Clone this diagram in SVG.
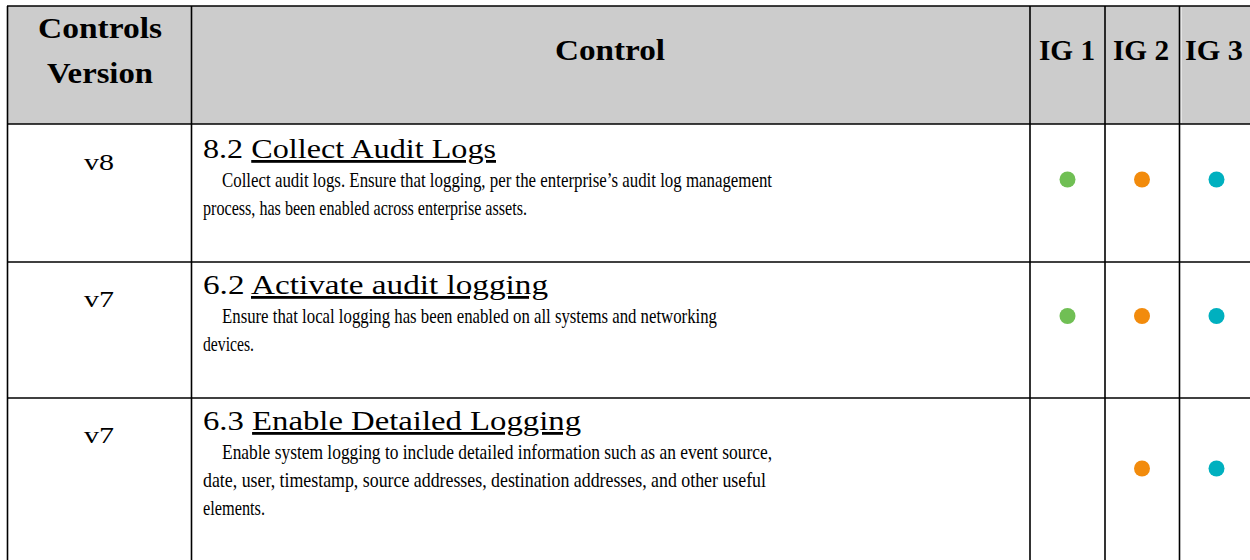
<svg xmlns="http://www.w3.org/2000/svg" width="1250" height="560" viewBox="0 0 1250 560">
<style>
.hd{font-family:"Liberation Serif","DejaVu Serif",serif;font-weight:bold;font-size:30px;fill:#000}
.ver{font-family:"Liberation Serif","DejaVu Serif",serif;font-size:24px;fill:#000}
.ttl{font-family:"Liberation Serif","DejaVu Serif",serif;font-size:28px;fill:#000}
.dsc{font-family:"Liberation Serif","DejaVu Serif",serif;font-size:21px;fill:#000}
.u{text-decoration:underline}
.grid{stroke:#000;stroke-width:1.6;fill:none}
.g{fill:#70bf54}.o{fill:#f28b0c}.t{fill:#00b0bf}
</style>
<rect x="0" y="0" width="1250" height="560" fill="#fff"/>
<g id="header">
<rect x="7" y="6" width="1243" height="118" fill="#cccccc"/>
<line x1="1181" y1="7" x2="1181" y2="123" stroke="#fff" stroke-width="1"/>
<text class="hd" x="38" y="38" textLength="124" lengthAdjust="spacingAndGlyphs">Controls</text>
<text class="hd" x="47" y="83" textLength="106" lengthAdjust="spacingAndGlyphs">Version</text>
<text class="hd" x="555" y="60" textLength="110" lengthAdjust="spacingAndGlyphs">Control</text>
<text class="hd" x="1039" y="60" textLength="56" lengthAdjust="spacingAndGlyphs">IG 1</text>
<text class="hd" x="1113" y="60" textLength="56" lengthAdjust="spacingAndGlyphs">IG 2</text>
<text class="hd" x="1185" y="60" textLength="58" lengthAdjust="spacingAndGlyphs">IG 3</text>
</g>
<g id="grid">
<line class="grid" x1="7" y1="6" x2="1250" y2="6"/>
<line class="grid" x1="7" y1="124" x2="1250" y2="124"/>
<line class="grid" x1="7" y1="262" x2="1250" y2="262"/>
<line class="grid" x1="7" y1="398" x2="1250" y2="398"/>
<line class="grid" x1="7.5" y1="6" x2="7.5" y2="560"/>
<line class="grid" x1="191.5" y1="6" x2="191.5" y2="560"/>
<line class="grid" x1="1030" y1="6" x2="1030" y2="560"/>
<line class="grid" x1="1105" y1="6" x2="1105" y2="560"/>
<line class="grid" x1="1179.5" y1="6" x2="1179.5" y2="560"/>
</g>
<g id="row1">
<text class="ver" x="84" y="170" textLength="30" lengthAdjust="spacingAndGlyphs">v8</text>
<text class="ttl" x="203" y="158" textLength="293" lengthAdjust="spacingAndGlyphs">8.2 <tspan class="u">Collect Audit Logs</tspan></text>
<text class="dsc" x="222" y="187" textLength="550" lengthAdjust="spacingAndGlyphs">Collect audit logs. Ensure that logging, per the enterprise’s audit log management</text>
<text class="dsc" x="203" y="215" textLength="324" lengthAdjust="spacingAndGlyphs">process, has been enabled across enterprise assets.</text>
<circle class="g" cx="1067.5" cy="179.5" r="8"/>
<circle class="o" cx="1142" cy="179.5" r="8"/>
<circle class="t" cx="1216.5" cy="179.5" r="8"/>
</g>
<g id="row2">
<text class="ver" x="84" y="307" textLength="30" lengthAdjust="spacingAndGlyphs">v7</text>
<text class="ttl" x="203" y="294" textLength="345" lengthAdjust="spacingAndGlyphs">6.2 <tspan class="u">Activate audit logging</tspan></text>
<text class="dsc" x="222" y="323" textLength="495" lengthAdjust="spacingAndGlyphs">Ensure that local logging has been enabled on all systems and networking</text>
<text class="dsc" x="203" y="351" textLength="51" lengthAdjust="spacingAndGlyphs">devices.</text>
<circle class="g" cx="1067.5" cy="316" r="8"/>
<circle class="o" cx="1142" cy="316" r="8"/>
<circle class="t" cx="1216.5" cy="316" r="8"/>
</g>
<g id="row3">
<text class="ver" x="84" y="443" textLength="30" lengthAdjust="spacingAndGlyphs">v7</text>
<text class="ttl" x="203" y="430" textLength="378" lengthAdjust="spacingAndGlyphs">6.3 <tspan class="u">Enable Detailed Logging</tspan></text>
<text class="dsc" x="222" y="459" textLength="550" lengthAdjust="spacingAndGlyphs">Enable system logging to include detailed information such as an event source,</text>
<text class="dsc" x="203" y="487" textLength="563" lengthAdjust="spacingAndGlyphs">date, user, timestamp, source addresses, destination addresses, and other useful</text>
<text class="dsc" x="203" y="515" textLength="62" lengthAdjust="spacingAndGlyphs">elements.</text>
<circle class="o" cx="1142" cy="468.5" r="8"/>
<circle class="t" cx="1216.5" cy="468.5" r="8"/>
</g>
</svg>
